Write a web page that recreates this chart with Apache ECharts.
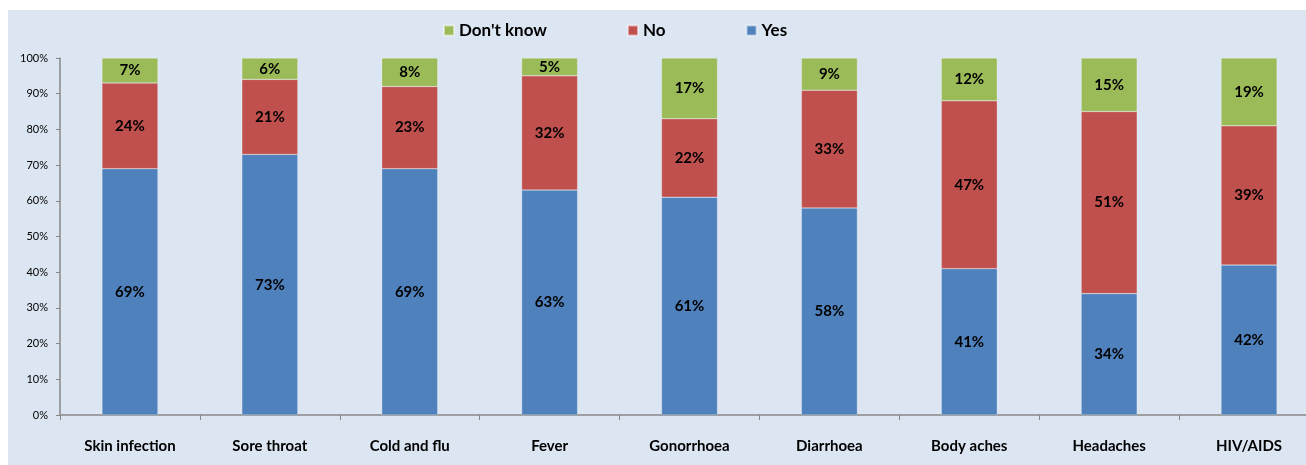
<!DOCTYPE html>
<html lang="en">
<head>
    <meta charset="UTF-8">
    <title>Stacked bars</title>
    <script src="https://cdn.jsdelivr.net/npm/echarts@6.0.0/dist/echarts.min.js"></script>
    <style>
        body { margin: 0; background: #fff; }
    </style>
</head>
<body>
    <div id="main" style="width: 1306px;height:465px;"></div>
    <script type="text/javascript">
        // data (percent)
        const categories = ['Skin infection', 'Sore throat', 'Cold and flu', 'Fever', 'Gonorrhoea', 'Diarrhoea', 'Body aches', 'Headaches', 'HIV/AIDS'];
        const yesValues = [69, 73, 69, 63, 61, 58, 41, 34, 42];
        const noValues = [24, 21, 23, 32, 22, 33, 47, 51, 39];
        const dontKnowValues = [7, 6, 8, 5, 17, 9, 12, 15, 19];

        const font = 'Lato, "Open Sans", sans-serif';

        const labelStyle = {
            show: true,
            position: 'inside',
            formatter: p => p.value + '%',
            color: '#000',
            fontWeight: 'bold',
            fontSize: 15,
            fontFamily: font
        };

        function makeSeries(name, data, color) {
            return {
                name: name,
                type: 'bar',
                stack: 'total',
                barWidth: 56,
                data: data,
                itemStyle: { color: color, borderColor: 'rgba(255,255,255,0.5)', borderWidth: 0.5 },
                label: labelStyle
            };
        }

        let options = {
            backgroundColor: '#fff',
            graphic: [{
                type: 'rect',
                z: -10,
                shape: { x: 8, y: 10, width: 1298, height: 455 },
                style: { fill: '#dce6f2' }
            }],
            legend: {
                left: 438,
                top: 17,
                itemWidth: 10,
                itemHeight: 10,
                itemGap: 80,
                icon: 'rect',
                data: ["Don't know", 'No', 'Yes'],
                textStyle: { fontSize: 17, fontWeight: 'bold', color: '#000', fontFamily: font }
            },
            grid: {
                left: 60,
                top: 58,
                width: 1259,
                height: 357,
                containLabel: false,
                outerBoundsMode: 'none'
            },
            xAxis: {
                type: 'category',
                data: categories,
                axisLine: { lineStyle: { color: '#888', width: 1.5 } },
                axisTick: { show: true, length: 5, lineStyle: { color: '#888' } },
                axisLabel: {
                    margin: 24,
                    color: '#000',
                    fontSize: 15,
                    fontWeight: 'bold',
                    fontFamily: font
                }
            },
            yAxis: {
                type: 'value',
                min: 0,
                max: 100,
                interval: 10,
                splitLine: { show: false },
                axisLine: { show: true, lineStyle: { color: '#888', width: 1.5 } },
                axisTick: { show: true, length: 4, lineStyle: { color: '#888' } },
                axisLabel: {
                    formatter: '{value}%',
                    color: '#000',
                    fontSize: 11,
                    margin: 12,
                    fontFamily: font
                }
            },
            series: [
                makeSeries('Yes', yesValues, '#4f81bd'),
                makeSeries('No', noValues, '#c0504d'),
                makeSeries("Don't know", dontKnowValues, '#9bbb59')
            ]
        };

        let myChart = echarts.init(document.getElementById('main'));
        myChart.setOption(options);
    </script>
</body>
</html>
